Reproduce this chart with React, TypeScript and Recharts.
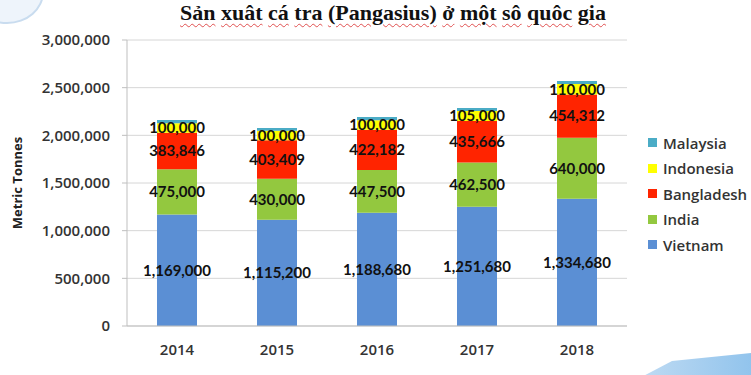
import React from 'react';
import { BarChart, Bar, XAxis, YAxis, CartesianGrid, LabelList } from 'recharts';

const years = ['2014', '2015', '2016', '2017', '2018'];
const vietnam = [1169000, 1115200, 1188680, 1251680, 1334680];
const india = [475000, 430000, 447500, 462500, 640000];
const bangladesh = [383846, 403409, 422182, 435666, 454312];
const indonesia = [100000, 100000, 100000, 105000, 110000];
const malaysia = [33000, 28000, 34000, 32000, 31000];
const yTicks = [0, 500000, 1000000, 1500000, 2000000, 2500000, 3000000];

const titleWords = ['Sản', 'xuât', 'cá', 'tra', '(Pangasius)', 'ở', 'một', 'sô', 'quôc', 'gia'];
const yLabel = 'Metric Tonnes';

const series = [
  { key: 'Vietnam', color: '#5B8FD4', values: vietnam, label: true },
  { key: 'India', color: '#93C83F', values: india, label: true },
  { key: 'Bangladesh', color: '#FF2400', values: bangladesh, label: true },
  { key: 'Indonesia', color: '#FFFF00', values: indonesia, label: true },
  { key: 'Malaysia', color: '#4BACC6', values: malaysia, label: false },
];

const data = years.map((y, i) => {
  const row: Record<string, string | number> = { year: y };
  series.forEach((s) => {
    row[s.key] = s.values[i];
  });
  return row;
});

const fmt = (v: number) => Number(v).toLocaleString('en-US');

const YLabel = () => (
  <text
    x={17}
    y={183}
    transform="rotate(-90 17 183)"
    textAnchor="middle"
    dominantBaseline="central"
    style={{ fontFamily: 'Open Sans', fontSize: 13, fontWeight: 700, fill: '#222' }}
  >
    {yLabel}
  </text>
);

export default function App() {
  return (
    <div style={{ position: 'absolute', left: 0, top: 0, width: 751, height: 375, background: '#fff', overflow: 'hidden' }}>
      <div
        style={{
          position: 'absolute',
          left: -30,
          top: -40,
          width: 70,
          height: 60,
          borderRadius: '50%',
          border: '2px solid #c9dcef',
          background: '#eef4fb',
        }}
      />
      <div
        style={{
          position: 'absolute',
          left: 600,
          top: 352,
          width: 160,
          height: 30,
          background: 'linear-gradient(90deg, #cfe3f5, #8ec2ec)',
          clipPath: 'polygon(20% 100%, 45% 30%, 100% 0%, 100% 100%)',
        }}
      />
      <div
        style={{
          position: 'absolute',
          left: 0,
          top: -1,
          width: 786,
          textAlign: 'center',
          fontFamily: 'Liberation Serif',
          fontWeight: 700,
          fontSize: 22,
          lineHeight: '28px',
          color: '#111',
        }}
      >
        {titleWords.map((w, i) => (
          <React.Fragment key={i}>
            <span style={{ textDecoration: 'underline wavy #e05050', textDecorationThickness: 1, textUnderlineOffset: 3 }}>{w}</span>
            {i < titleWords.length - 1 ? ' ' : ''}
          </React.Fragment>
        ))}
      </div>
      <BarChart
        width={751}
        height={375}
        data={data}
        margin={{ top: 40, right: 124, bottom: 19, left: 0 }}
        barCategoryGap="30%"
        style={{ position: 'absolute', left: 0, top: 0 }}
      >
        <CartesianGrid vertical={false} stroke="#d6d6d6" />
        <XAxis
          dataKey="year"
          height={30}
          stroke="#bfbfbf"
          tickLine={false}
          tickMargin={12}
          tick={{ fontFamily: 'Open Sans', fontSize: 15, fontWeight: 600, fill: '#333' }}
        />
        <YAxis
          width={127}
          domain={[0, 3000000]}
          ticks={yTicks}
          interval={0}
          stroke="#bfbfbf"
          tickSize={5}
          tickMargin={12}
          tickFormatter={fmt}
          tick={{ fontFamily: 'Open Sans', fontSize: 15, fontWeight: 600, fill: '#333' }}
          label={<YLabel />}
        />
        {series.map((s) => (
          <Bar key={s.key} dataKey={s.key} stackId="a" fill={s.color} isAnimationActive={false}>
            {s.label ? (
              <LabelList
                dataKey={s.key}
                position="center"
                formatter={fmt}
                style={{ fontFamily: 'Lato', fontSize: 15, fontWeight: 700, fill: '#111' }}
              />
            ) : null}
          </Bar>
        ))}
      </BarChart>
      <div
        style={{
          position: 'absolute',
          left: 648,
          top: 130,
          fontFamily: 'Open Sans',
          fontSize: 15,
          fontWeight: 600,
          color: '#333',
        }}
      >
        {[...series].reverse().map((s) => (
          <div key={s.key} style={{ display: 'flex', alignItems: 'center', height: 25.5 }}>
            <div style={{ width: 9, height: 9, background: s.color, marginRight: 6 }} />
            <span>{s.key}</span>
          </div>
        ))}
      </div>
    </div>
  );
}
